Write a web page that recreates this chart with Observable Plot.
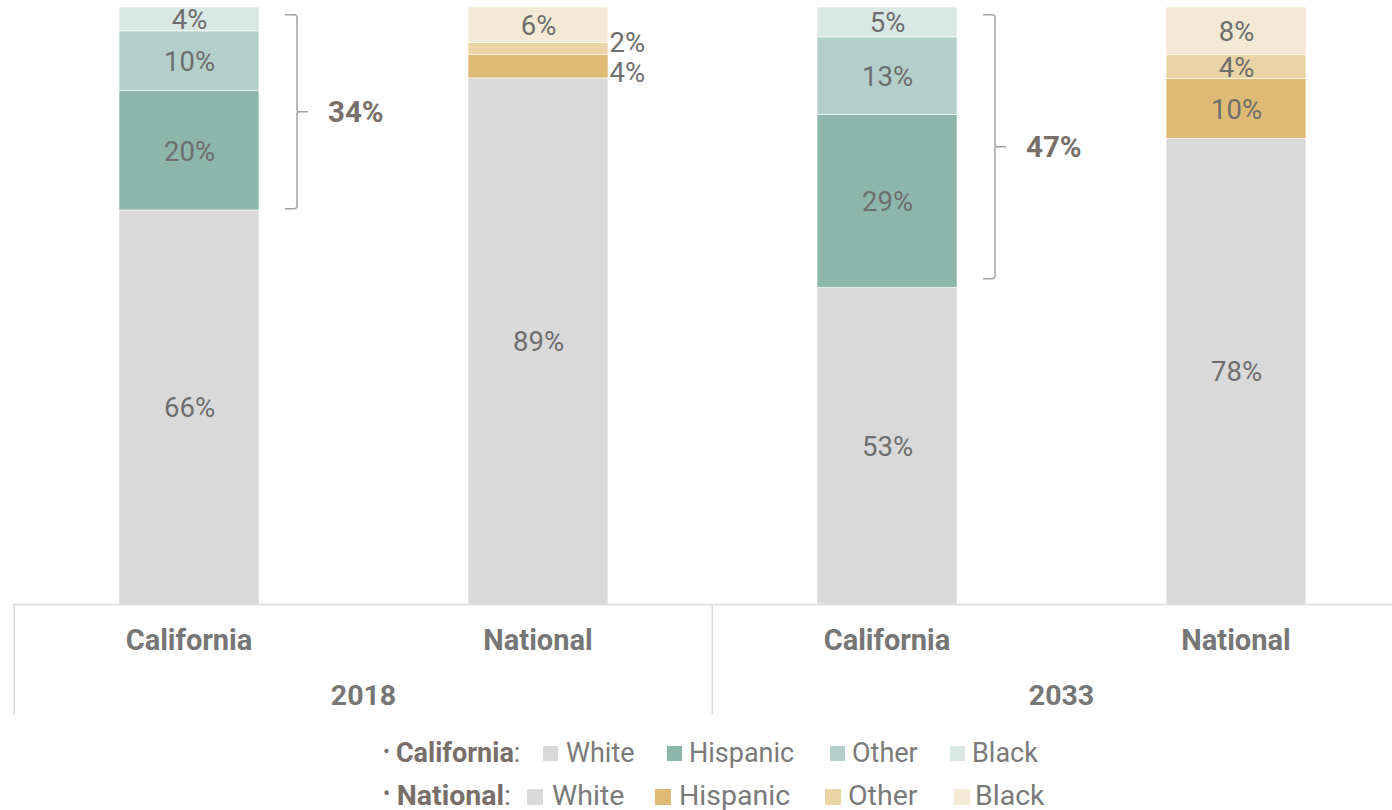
<!DOCTYPE html>
<html><head><meta charset="utf-8">
<script src="https://cdn.jsdelivr.net/npm/d3@7"></script>
<script src="https://cdn.jsdelivr.net/npm/@observablehq/plot@0.6"></script>
<style>
html,body{margin:0;padding:0;background:#fff;overflow:hidden;}
body{width:1392px;height:810px;font-family:Roboto,sans-serif;}
#chart{position:relative;width:1392px;height:715px;overflow:hidden}
#legend{position:relative;width:1392px;height:95px;}
.li{position:absolute;white-space:nowrap;color:#7a7a7a;line-height:28px;height:28px;}
.lh{position:absolute;white-space:nowrap;color:#786f6a;line-height:28px;height:28px;}
.sw{position:absolute;}
</style></head><body>
<div id="chart"></div><div id="legend"></div>
<script>
const years = ["2018", "2018", "2033", "2033"];
const regions = ["California", "National", "California", "National"];
const races = ["White", "Hispanic", "Other", "Black"];
const white = [66, 89, 53, 78];
const hispanic = [20, 4, 29, 10];
const other = [10, 2, 13, 4];
const black = [4, 6, 5, 8];
const caColors = ["#d9d9d9", "#8db6ab", "#b4cfc9", "#d9e8e3"];
const natColors = ["#d9d9d9", "#dfba75", "#ead3a4", "#f4e9d4"];
const bracketBars = [0, 2];
const bracketTotals = [34, 47];
const bracketFrom = [66.2, 54.5];
const bracketTo = [98.7, 98.7];

const keys = years.map((y, i) => y + "|" + regions[i]);
const series = [white, hispanic, other, black];
const data = [];
keys.forEach((k, i) => {
  races.forEach((r, j) => {
    data.push({
      key: k, year: years[i], region: regions[i], race: r,
      value: series[j][i],
      color: (regions[i] === "California" ? caColors : natColors)[j]
    });
  });
});
const isOutside = d => d.key === "2018|National" && (d.race === "Hispanic" || d.race === "Other");
const lab = d => d.value + "%";

const chart = Plot.plot({
  width: 1392,
  height: 715,
  marginTop: 0, marginBottom: 0, marginLeft: 0, marginRight: 0,
  style: {fontFamily: "Roboto, sans-serif", background: "#fff", overflow: "hidden"},
  x: {type: "band", domain: keys, range: [13, 1411], paddingInner: 0.6, paddingOuter: 0.3, axis: null},
  y: {domain: [0, 1], range: [604, 7], axis: null},
  color: {type: "identity"},
  marks: [
    Plot.barY(data, Plot.stackY({x: "key", y: "value", fill: "color", offset: "normalize", stroke: "#fff", strokeWidth: 0.6})),
    Plot.text(data, Plot.stackY({x: "key", y: "value", offset: "normalize",
      text: d => isOutside(d) ? "" : lab(d), fontSize: 27.5, fill: "#6e6e6e", dy: 1})),
    Plot.text(data, Plot.stackY({x: "key", y: "value", offset: "normalize",
      text: d => isOutside(d) && d.race === "Other" ? lab(d) : "", fontSize: 27.5, fill: "#6e6e6e", textAnchor: "start", dx: 71, dy: -6})),
    Plot.text(data, Plot.stackY({x: "key", y: "value", offset: "normalize",
      text: d => isOutside(d) && d.race === "Hispanic" ? lab(d) : "", fontSize: 27.5, fill: "#6e6e6e", textAnchor: "start", dx: 71, dy: 7}))
  ]
});

const sx = chart.scale("x");
const sy = chart.scale("y");
const bw = sx.bandwidth;
const svg = d3.select(chart);
const g = svg.append("g").attr("text-anchor", "start");
// axis frame
g.append("line").attr("x1", 13).attr("x2", 1392).attr("y1", sy.apply(0) + 0.5).attr("y2", sy.apply(0) + 0.5)
  .attr("stroke", "#d9d9d9").attr("stroke-width", 1.5);
const uniqYears = [...new Set(years)];
uniqYears.forEach(yr => {
  const ks = keys.filter(k => k.startsWith(yr));
  const left = sx.apply(ks[0]) - sx.step * 0.3;
  g.append("line").attr("x1", left).attr("x2", left).attr("y1", sy.apply(0)).attr("y2", 715)
    .attr("stroke", "#d9d9d9").attr("stroke-width", 1.5);
  const c0 = sx.apply(ks[0]) + bw / 2, c1 = sx.apply(ks[ks.length - 1]) + bw / 2;
  g.append("text").attr("x", (c0 + c1) / 2).attr("y", 695).attr("text-anchor", "middle").attr("dominant-baseline", "central")
    .attr("font-size", 28.5).attr("font-weight", "bold").attr("fill", "#767676").text(yr);
});
keys.forEach((k, i) => {
  g.append("text").attr("x", sx.apply(k) + bw / 2).attr("y", 640).attr("text-anchor", "middle").attr("dominant-baseline", "central")
    .attr("font-size", 29).attr("font-weight", "bold").attr("fill", "#767676").text(regions[i]);
});
// brackets
bracketBars.forEach((bi, i) => {
  const right = sx.apply(keys[bi]) + bw;
  const yTop = sy.apply(bracketTo[i] / 100), yBot = sy.apply(bracketFrom[i] / 100);
  const ym = (yTop + yBot) / 2;
  const x0 = right + 26, xv = right + 38;
  g.append("path")
    .attr("d", `M${x0},${yTop} H${xv - 3} Q${xv},${yTop} ${xv},${yTop + 3} V${ym - 2} Q${xv},${ym} ${xv + 3},${ym} H${xv + 11} M${xv + 3},${ym} Q${xv},${ym} ${xv},${ym + 2} V${yBot - 3} Q${xv},${yBot} ${xv - 3},${yBot} H${x0}`)
    .attr("fill", "none").attr("stroke", "#a3a3a3").attr("stroke-width", 1.5);
  g.append("text").attr("x", right + 69).attr("y", ym).attr("text-anchor", "start").attr("dominant-baseline", "central")
    .attr("font-size", 29.5).attr("font-weight", "bold").attr("fill", "#786f6a").text(bracketTotals[i] + "%");
});
document.getElementById("chart").appendChild(chart);

// legend
const legend = document.getElementById("legend");
const rows = [
  {name: "California", colors: caColors, cy: 37.5, fs: 27, ss: 15, hx: 383, sw: [543, 667, 830, 950], tx: [566, 689, 852, 972]},
  {name: "National", colors: natColors, cy: 80.5, fs: 28.5, ss: 16, hx: 383, sw: [527, 655, 825, 954], tx: [552, 679, 848, 975]}
];
rows.forEach(r => {
  const h = document.createElement("span");
  h.className = "lh";
  h.style.left = r.hx + "px"; h.style.top = (r.cy - 14) + "px"; h.style.fontSize = r.fs + "px";
  h.innerHTML = `<span style="font-size:0.75em;position:relative;top:-0.15em;margin-right:0.3em">•</span><b>${r.name}</b>:`;
  legend.appendChild(h);
  races.forEach((race, j) => {
    const s = document.createElement("span");
    s.className = "sw";
    s.style.left = r.sw[j] + "px"; s.style.top = (r.cy - r.ss / 2 + 1) + "px"; s.style.background = r.colors[j];
    s.style.width = r.ss + "px"; s.style.height = r.ss + "px";
    legend.appendChild(s);
    const t = document.createElement("span");
    t.className = "li";
    t.style.left = r.tx[j] + "px"; t.style.top = (r.cy - 14) + "px"; t.style.fontSize = r.fs + "px";
    t.textContent = race;
    legend.appendChild(t);
  });
});
</script>
</body></html>
